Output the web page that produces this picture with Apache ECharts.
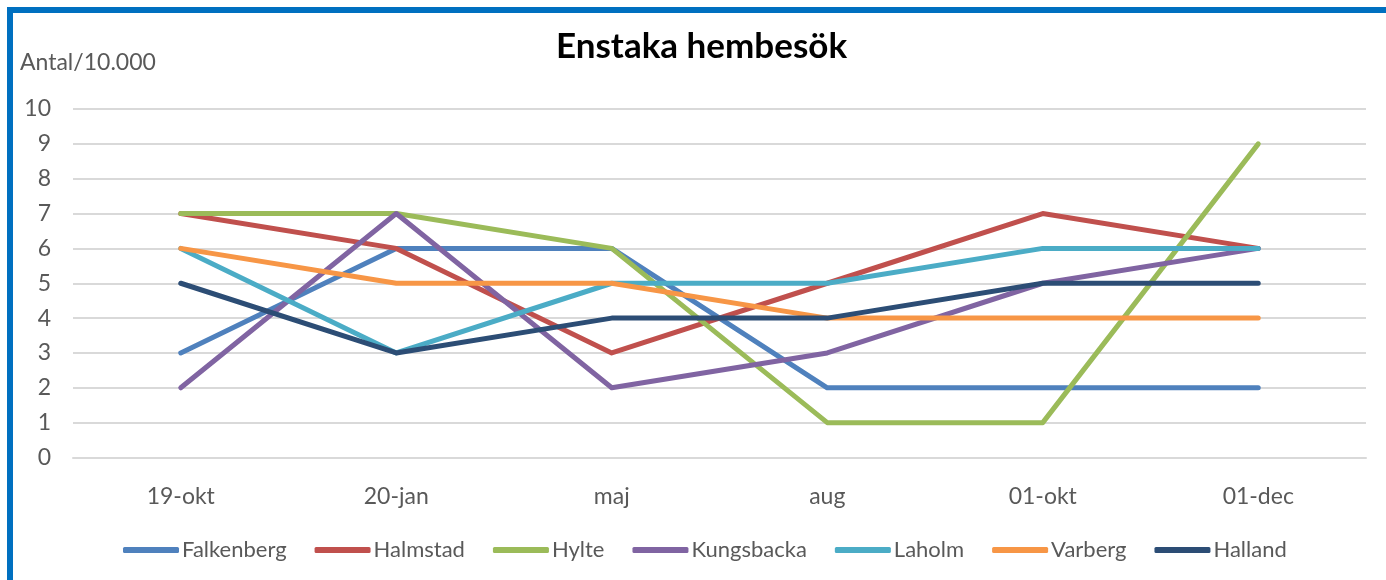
<!DOCTYPE html>
<html>
<head>
<meta charset="utf-8">
<script src="https://cdn.jsdelivr.net/npm/echarts@6/dist/echarts.min.js"></script>
<style>
html,body{margin:0;padding:0;background:#fff;}
#chart{width:1386px;height:580px;}
</style>
</head>
<body>
<div id="chart"></div>
<script>
const categories = ['19-okt', '20-jan', 'maj', 'aug', '01-okt', '01-dec'];
const falkenberg = [3, 6, 6, 2, 2, 2];
const halmstad = [7, 6, 3, 5, 7, 6];
const hylte = [7, 7, 6, 1, 1, 9];
const kungsbacka = [2, 7, 2, 3, 5, 6];
const laholm = [6, 3, 5, 5, 6, 6];
const varberg = [6, 5, 5, 4, 4, 4];
const halland = [5, 3, 4, 4, 5, 5];
const seriesNames = ['Falkenberg', 'Halmstad', 'Hylte', 'Kungsbacka', 'Laholm', 'Varberg', 'Halland'];
const seriesData = [falkenberg, halmstad, hylte, kungsbacka, laholm, varberg, halland];
const colors = ['#4F81BD', '#C0504D', '#9BBB59', '#8064A2', '#4BACC6', '#F79646', '#2C4D75'];

const FONT = 'Lato';
const chart = echarts.init(document.getElementById('chart'), null, {renderer: 'canvas'});
chart.setOption({
  animation: false,
  backgroundColor: '#ffffff',
  color: colors,
  title: [
    {text: 'Enstaka hembesök', left: 551, top: 24,
     textStyle: {fontFamily: FONT, fontSize: 35, fontWeight: 'bold', color: '#000000'}},
    {text: 'Antal/10.000', left: 15, top: 46,
     textStyle: {fontFamily: FONT, fontSize: 23, fontWeight: 'normal', color: '#595959'}}
  ],
  graphic: [
    {type: 'rect', shape: {x: 7, y: 7, width: 1386, height: 6}, style: {fill: '#0070C0'}},
    {type: 'rect', shape: {x: 7, y: 7, width: 6, height: 580}, style: {fill: '#0070C0'}}
  ],
  grid: {left: 73, right: 20, top: 109, bottom: 122.5, containLabel: false},
  legend: {
    bottom: 14, left: 118,
    icon: 'roundRect', itemWidth: 56, itemHeight: 6, itemGap: 28,
    textStyle: {fontFamily: FONT, fontSize: 22, color: '#595959', padding: [0, 0, 0, -2]},
    data: seriesNames
  },
  xAxis: {
    type: 'category', data: categories, boundaryGap: true,
    axisLine: {show: true, lineStyle: {color: '#d9d9d9', width: 2}},
    axisTick: {show: false},
    axisLabel: {fontFamily: FONT, fontSize: 23, color: '#595959', margin: 28}
  },
  yAxis: {
    type: 'value', min: 0, max: 10, interval: 1,
    axisLine: {show: false}, axisTick: {show: false},
    splitLine: {lineStyle: {color: '#d9d9d9', width: 2}},
    axisLabel: {fontFamily: FONT, fontSize: 23, color: '#595959', margin: 22}
  },
  series: seriesNames.map((n, i) => ({
    name: n, type: 'line', data: seriesData[i],
    symbol: 'none', showSymbol: false,
    lineStyle: {width: 5, color: colors[i], cap: 'round', join: 'round'},
    itemStyle: {color: colors[i]}
  }))
});
</script>
</body>
</html>
